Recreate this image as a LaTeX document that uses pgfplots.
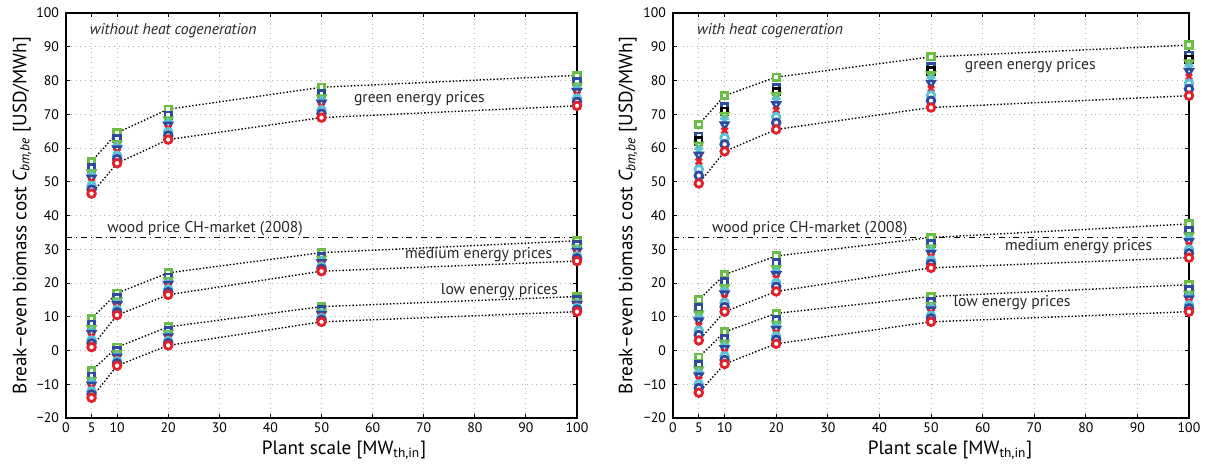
\documentclass[border=0pt]{standalone}
\usepackage{fontspec}
\setmainfont{PT Sans}
\usepackage{pgfplots}
\pgfplotsset{compat=1.18}
\definecolor{mgreen}{HTML}{6ABD45}
\definecolor{mblue}{HTML}{2E4A9E}
\definecolor{mcyan}{HTML}{5BC2DA}
\definecolor{mred}{HTML}{E2202A}
\tikzset{ann/.style={anchor=west, font=\fontsize{7.8}{9}\selectfont, text=black!85}}
\pgfplotsset{
  panel/.style={
    scale only axis, height=202.5pt,
    xmin=0,xmax=100,ymin=-20,ymax=100,
    xtick={0,5,10,20,30,40,50,60,70,80,90,100},
    xticklabels={0,5,10,20,30,40,50,60,70,80,90,100},
    ytick={-20,-10,0,10,20,30,40,50,60,70,80,90,100},
    yticklabels={−20,−10,0,10,20,30,40,50,60,70,80,90,100},
    tick align=inside, tick pos=both,
    major tick length=2pt,
    grid=major, major grid style={dotted, gray!60, line width=0.45pt},
    axis line style={line width=0.75pt},
    tick style={black, line width=0.5pt},
    tick label style={font=\fontsize{6.9}{8}\selectfont},
    xticklabel style={yshift=1pt},
    label style={font=\fontsize{9.6}{11}\selectfont},
    xlabel={Plant scale [MW\textsubscript{th,in}]},
    ylabel={Break–even biomass cost {\itshape C}\textsubscript{\itshape bm,be} [USD/MWh]},
    clip=false,
  },
  env/.style={black, densely dotted, line width=0.7pt, mark=none},
  wood/.style={black, dash dot, line width=0.55pt, mark=none},
  msq/.style={only marks, mark=square*, mark size=1.6pt, mark options={draw=#1, fill=white, line width=1.4pt}},
  mtri/.style={only marks, mark=triangle*, mark size=2.1pt, mark options={rotate=180, draw=#1, fill=white, line width=1.3pt}},
  mstar/.style={only marks, mark=star, mark size=2.3pt, mark options={draw=#1, line width=1.3pt}},
  mx/.style={only marks, mark=x, mark size=2.1pt, mark options={draw=#1, line width=1.4pt}},
  mci/.style={only marks, mark=*, mark size=1.9pt, mark options={draw=#1, fill=white, line width=1.4pt}},
}
\begin{document}
\begin{tikzpicture}
\useasboundingbox (-33pt,-25pt) rectangle (572pt,209pt);
% ================= LEFT =================
\begin{axis}[panel, width=255.5pt, at={(0pt,0pt)}, anchor=south west,
  ylabel style={at={(axis description cs:-0.086,0.5)}, anchor=center},
  xlabel style={at={(axis description cs:0.544,-0.079)}, anchor=center}]
\addplot[env] coordinates {(5,56)(10,64.5)(20,71.5)(50,78)(100,81.5)};
\addplot[env] coordinates {(5,46.5)(10,55.5)(20,62.5)(50,69)(100,72.5)};
\addplot[env] coordinates {(5,9.5)(10,17)(20,23)(50,29)(100,32.5)};
\addplot[env] coordinates {(5,1)(10,10.5)(20,16.5)(50,23.5)(100,26.5)};
\addplot[env] coordinates {(5,-6)(10,1)(20,7)(50,13)(100,16)};
\addplot[env] coordinates {(5,-14)(10,-4.5)(20,1.5)(50,8.5)(100,11.5)};
\addplot[wood] coordinates {(0,33.4)(100,33.4)};
\addplot[msq=mgreen] coordinates {(5,56)(10,64.5)(20,71.5)(50,78)(100,81.5) (5,9.5)(10,17)(20,23)(50,29)(100,32.5) (5,-6)(10,1)(20,7)(50,13)(100,16)};
\addplot[msq=mblue] coordinates {(5,54.1)(10,62.7)(20,69.7)(50,76.2)(100,79.7) (5,7.8)(10,15.7)(20,21.7)(50,27.9)(100,31.3) (5,-7.6)(10,-0.1)(20,5.9)(50,12.1)(100,15.1)};
\addplot[mtri=mgreen] coordinates {(5,52.7)(10,61.35)(20,68.35)(50,74.85)(100,78.35) (5,6.5)(10,14.7)(20,20.7)(50,27.1)(100,30.4) (5,-8.8)(10,-0.9)(20,5.1)(50,11.4)(100,14.4)};
\addplot[mstar=mcyan] coordinates {(5,51.9)(10,60.6)(20,67.6)(50,74.1)(100,77.6) (5,5.8)(10,14.2)(20,20.2)(50,26.6)(100,29.9) (5,-9.4)(10,-1.4)(20,4.6)(50,11.1)(100,14.1)};
\addplot[mtri=mblue] coordinates {(5,51.1)(10,59.8)(20,66.8)(50,73.3)(100,76.8) (5,5.1)(10,13.6)(20,19.6)(50,26.1)(100,29.4) (5,-10.2)(10,-1.9)(20,4.1)(50,10.7)(100,13.7)};
\addplot[mx=mred] coordinates {(5,50)(10,58.8)(20,65.8)(50,72.3)(100,75.8) (5,4.1)(10,12.9)(20,18.9)(50,25.5)(100,28.7) (5,-11)(10,-2.5)(20,3.5)(50,10.2)(100,13.2)};
\addplot[mci=mcyan] coordinates {(5,48.8)(10,57.7)(20,64.7)(50,71.2)(100,74.7) (5,3)(10,12.1)(20,18.1)(50,24.8)(100,27.9) (5,-12.1)(10,-3.2)(20,2.8)(50,9.6)(100,12.6)};
\addplot[mci=mblue] coordinates {(5,47.7)(10,56.7)(20,63.7)(50,70.2)(100,73.7) (5,2.1)(10,11.3)(20,17.3)(50,24.2)(100,27.3) (5,-13)(10,-3.8)(20,2.2)(50,9.1)(100,12.1)};
\addplot[mci=mred] coordinates {(5,46.5)(10,55.5)(20,62.5)(50,69)(100,72.5) (5,1)(10,10.5)(20,16.5)(50,23.5)(100,26.5) (5,-14)(10,-4.5)(20,1.5)(50,8.5)(100,11.5)};
\node[ann, font=\fontsize{7.8}{9}\selectfont\itshape] at (axis cs:3.3,94.7) {without heat cogeneration};
\node[ann] at (axis cs:6.7,36.2) {wood price CH-market (2008)};
\node[ann] at (axis cs:55,74.5) {green energy prices};
\node[ann] at (axis cs:65,28.3) {medium energy prices};
\node[ann] at (axis cs:72,17.7) {low energy prices};
\end{axis}
% ================= RIGHT =================
\begin{axis}[panel, width=258pt, at={(303.5pt,0pt)}, anchor=south west,
  ylabel style={at={(axis description cs:-0.087,0.5)}, anchor=center},
  xlabel style={at={(axis description cs:0.537,-0.079)}, anchor=center}]
\addplot[env] coordinates {(5,67)(10,75.5)(20,81)(50,87)(100,90.5)};
\addplot[env] coordinates {(5,49.5)(10,59)(20,65.5)(50,72)(100,75.5)};
\addplot[env] coordinates {(5,15)(10,22.5)(20,28)(50,33.5)(100,37.5)};
\addplot[env] coordinates {(5,3)(10,11.5)(20,17.5)(50,24.5)(100,27.5)};
\addplot[env] coordinates {(5,-2)(10,5.5)(20,11)(50,16)(100,19.5)};
\addplot[env] coordinates {(5,-12.5)(10,-4)(20,2)(50,8.5)(100,11.5)};
\addplot[wood] coordinates {(0,33.4)(100,33.4)};
\addplot[msq=mgreen] coordinates {(5,67)(10,75.5)(20,81)(50,87)(100,90.5) (5,15)(10,22.5)(20,28)(50,33.5)(100,37.5) (5,-2)(10,5.5)(20,11)(50,16)(100,19.5)};
\addplot[msq=mblue] coordinates {(5,63.5)(10,72.2)(20,77.9)(50,84)(100,87.5) (5,12.6)(10,20.3)(20,25.9)(50,31.7)(100,35.5) (5,-4.1)(10,3.6)(20,9.2)(50,14.5)(100,17.9)};
\addplot[msq=black] coordinates {(5,62.1)(10,70.9)(20,76.7)(50,82.8)(100,86.3)};
\addplot[mtri=mgreen] coordinates {(5,60.9)(10,69.7)(20,75.6)(50,81.75)(100,85.25) (5,10.8)(10,18.65)(20,24.3)(50,30.35)(100,34) (5,-5.7)(10,2.2)(20,7.85)(50,13.4)(100,16.7)};
\addplot[mstar=mcyan] coordinates {(5,59.5)(10,68.4)(20,74.3)(50,80.55)(100,84.05) (5,9.8)(10,17.8)(20,23.5)(50,29.6)(100,33.2) (5,-6.5)(10,1.4)(20,7.1)(50,12.8)(100,16.1)};
\addplot[mtri=mblue] coordinates {(5,57.9)(10,66.9)(20,72.9)(50,79.2)(100,82.7) (5,8.8)(10,16.8)(20,22.5)(50,28.8)(100,32.3) (5,-7.5)(10,0.6)(20,6.3)(50,12.1)(100,15.3)};
\addplot[mx=mred] coordinates {(5,56)(10,65.1)(20,71.2)(50,77.55)(100,81.05) (5,7.4)(10,15.6)(20,21.4)(50,27.8)(100,31.2) (5,-8.6)(10,-0.5)(20,5.3)(50,11.3)(100,14.5)};
\addplot[mci=mcyan] coordinates {(5,53.7)(10,63)(20,69.2)(50,75.6)(100,79.1) (5,5.9)(10,14.1)(20,20)(50,26.7)(100,29.9) (5,-10)(10,-1.7)(20,4.2)(50,10.3)(100,13.4)};
\addplot[mci=mblue] coordinates {(5,51.8)(10,61.1)(20,67.5)(50,74)(100,77.5) (5,4.6)(10,12.9)(20,18.9)(50,25.7)(100,28.8) (5,-11.1)(10,-2.8)(20,3.2)(50,9.5)(100,12.5)};
\addplot[mci=mred] coordinates {(5,49.5)(10,59)(20,65.5)(50,72)(100,75.5) (5,3)(10,11.5)(20,17.5)(50,24.5)(100,27.5) (5,-12.5)(10,-4)(20,2)(50,8.5)(100,11.5)};
\node[ann, font=\fontsize{7.8}{9}\selectfont\itshape] at (axis cs:3.3,94.7) {with heat cogeneration};
\node[ann] at (axis cs:6.2,36.2) {wood price CH-market (2008)};
\node[ann] at (axis cs:55.2,84.3) {green energy prices};
\node[ann] at (axis cs:63,30.8) {medium energy prices};
\node[ann] at (axis cs:53,14.1) {low energy prices};
\end{axis}
\end{tikzpicture}
\end{document}
